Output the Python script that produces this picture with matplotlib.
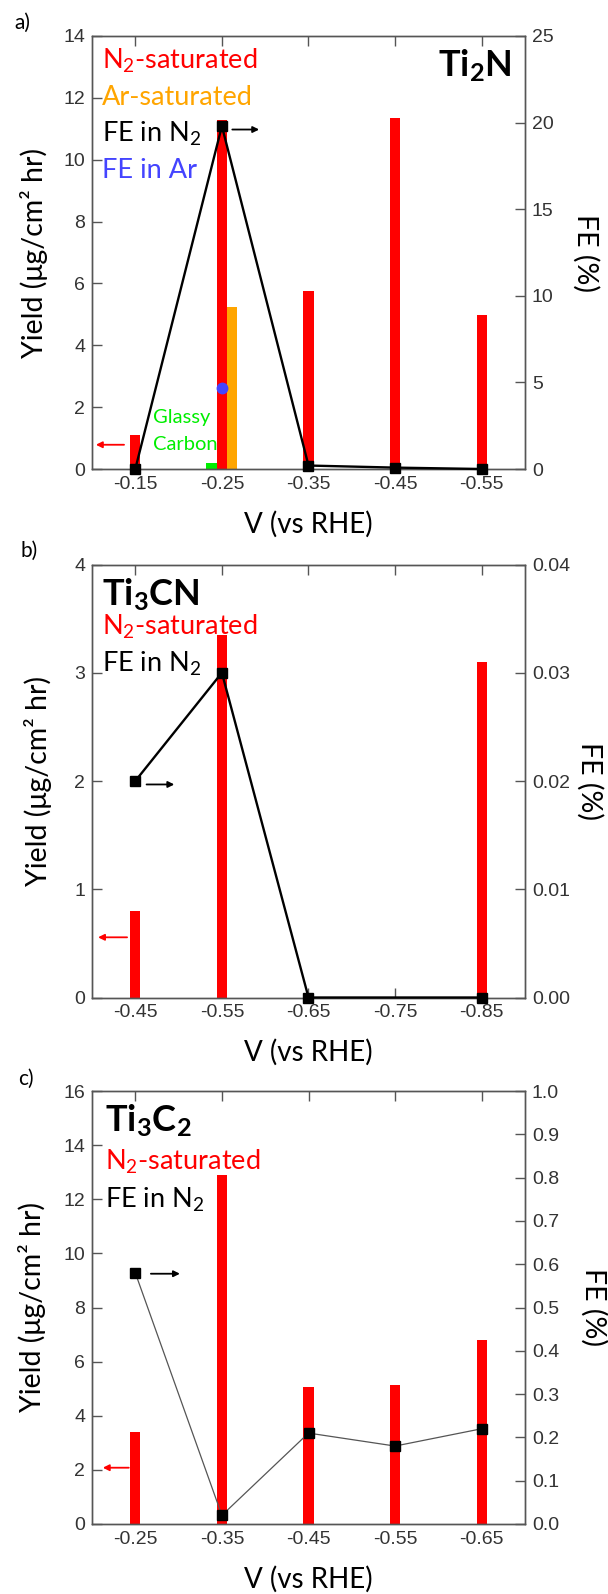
import numpy as np
import matplotlib.pyplot as plt

plt.rcParams['font.family'] = ['Liberation Sans', 'DejaVu Sans']
plt.rcParams['mathtext.fontset'] = 'custom'
plt.rcParams['mathtext.rm'] = 'Lato'
plt.rcParams['mathtext.it'] = 'Lato:italic'
plt.rcParams['mathtext.bf'] = 'Lato:bold'

# ---- panel a : Ti2N ----
v_a = [-0.15, -0.25, -0.35, -0.45, -0.55]
xlabels_a = ['-0.15', '-0.25', '-0.35', '-0.45', '-0.55']
yield_n2_a = [1.1, 11.3, 5.75, 11.35, 4.98]
v_ar_a = [-0.25]
yield_ar_a = [5.25]
v_gc_a = [-0.25]
yield_gc_a = [0.18]
fe_n2_a = [0.0, 19.8, 0.2, 0.08, 0.0]
fe_ar_a = [4.7]

# ---- panel b : Ti3CN ----
v_b = [-0.45, -0.55, -0.65, -0.75, -0.85]
xlabels_b = ['-0.45', '-0.55', '-0.65', '-0.75', '-0.85']
v_bar_b = [-0.45, -0.55, -0.85]
yield_n2_b = [0.8, 3.35, 3.1]
v_fe_b = [-0.45, -0.55, -0.65, -0.85]
fe_n2_b = [0.02, 0.03, 0.0, 0.0]

# ---- panel c : Ti3C2 ----
v_c = [-0.25, -0.35, -0.45, -0.55, -0.65]
xlabels_c = ['-0.25', '-0.35', '-0.45', '-0.55', '-0.65']
yield_n2_c = [3.4, 12.9, 5.05, 5.15, 6.8]
fe_n2_c = [0.58, 0.02, 0.21, 0.18, 0.22]

LBL = ['Lato', 'DejaVu Sans']
SPINE = '#555555'
TICKC = '#333333'
RED = '#ff0000'
ORANGE = '#ffa500'
GREEN = '#00ee00'
BLUE = '#4444ff'
BW = 0.012

W, H = 608, 1594
fig = plt.figure(figsize=(W / 100, H / 100), dpi=100, facecolor='white')


def make_panel(top_px, xlim, xt, xtl, ylim, yt, ylim2, yt2, yt2l, ylab_x, flab_x):
    left, right = 92, 525
    size = right - left
    ax = fig.add_axes([left / W, 1 - (top_px + size) / H, size / W, size / H])
    ax2 = ax.twinx()
    ax.set_xlim(*xlim)
    ax.set_ylim(*ylim)
    ax2.set_ylim(*ylim2)
    ax.set_xticks(xt, labels=xtl)
    ax.set_yticks(yt, labels=[str(t) for t in yt])
    ax2.set_yticks(yt2, labels=yt2l)
    for a in (ax, ax2):
        for s in a.spines.values():
            s.set_color(SPINE)
            s.set_linewidth(1.0)
    ax.tick_params(axis='both', direction='in', length=7, width=1, color=SPINE,
                   labelsize=14, labelcolor=TICKC, top=True, pad=5)
    ax2.tick_params(axis='y', direction='in', length=7, width=1, color=SPINE,
                    labelsize=14, labelcolor=TICKC, pad=5)
    ax.set_xlabel('V (vs RHE)', family=LBL, fontsize=20, va='center')
    ax.xaxis.set_label_coords(0.5, -55 / size)
    ax.set_ylabel('Yield (μg/cm² hr)', family=LBL, fontsize=20.5, va='center')
    ax.yaxis.set_label_coords((ylab_x - left) / size, 0.5)
    ax2.set_ylabel('FE (%)', family=LBL, fontsize=20.5, rotation=-90, va='center', ha='center')
    ax2.yaxis.set_label_coords((flab_x - left) / size, 0.5)
    return ax, ax2


def arrow(ax, x0, x1, y, color):
    ax.annotate('', xy=(x1, y), xytext=(x0, y), xycoords='axes fraction',
                arrowprops=dict(arrowstyle='-|>', color=color, lw=1.3,
                                mutation_scale=9, shrinkA=0, shrinkB=0))


def label(ax, x, y, s, color, size=19.5, weight='normal', ha='left'):
    ax.text(x, y, s, transform=ax.transAxes, color=color, fontsize=size,
            family=LBL, fontweight=weight, ha=ha, va='baseline', zorder=5)


# panel a
ax, ax2 = make_panel(36, (-0.10, -0.60), v_a, xlabels_a, (0, 14), range(0, 15, 2),
                     (0, 25), range(0, 26, 5), [str(t) for t in range(0, 26, 5)], 34, 586)
ax.bar(v_a, yield_n2_a, width=BW, color=RED, zorder=2)
ax.bar(np.array(v_ar_a) - BW, yield_ar_a, width=BW, color=ORANGE, zorder=2)
ax.bar(np.array(v_gc_a) + BW, yield_gc_a, width=BW, color=GREEN, zorder=2)
ax2.plot(v_a, fe_n2_a, color='black', lw=1.7, marker='s', ms=7.5, clip_on=False, zorder=4)
ax2.plot(v_ar_a, fe_ar_a, 'o', color=BLUE, ms=7.5, zorder=4)
label(ax, 0.022, 0.925, 'N$_2$-saturated', RED)
label(ax, 0.022, 0.841, 'Ar-saturated', ORANGE)
label(ax, 0.022, 0.755, 'FE in N$_2$', 'black')
label(ax, 0.022, 0.671, 'FE in Ar', BLUE)
label(ax, 0.970, 0.906, r'$\mathbf{Ti_2N}$', 'black', size=26, ha='right')
label(ax, 0.141, 0.107, 'Glassy', GREEN, size=14.5)
label(ax, 0.141, 0.044, 'Carbon', GREEN, size=14.5)
arrow(ax, 0.324, 0.386, 0.784, 'black')
arrow(ax, 0.074, 0.009, 0.056, RED)
fig.text(14 / W, 1 - 23 / H, 'a)', family=LBL, fontsize=15, va='center')

# panel b
ax, ax2 = make_panel(564.5, (-0.40, -0.90), v_b, xlabels_b, (0, 4), range(0, 5),
                     (0, 0.04), np.arange(0, 0.041, 0.01),
                     ['%.2f' % t for t in np.arange(0, 0.041, 0.01)], 38, 590)
ax.bar(v_bar_b, yield_n2_b, width=BW, color=RED, zorder=2)
ax2.plot(v_fe_b, fe_n2_b, color='black', lw=1.7, marker='s', ms=7.5, clip_on=False, zorder=4)
label(ax, 0.022, 0.906, r'$\mathbf{Ti_3CN}$', 'black', size=26)
label(ax, 0.022, 0.838, 'N$_2$-saturated', RED)
label(ax, 0.022, 0.752, 'FE in N$_2$', 'black')
arrow(ax, 0.126, 0.19, 0.492, 'black')
arrow(ax, 0.081, 0.014, 0.139, RED)
fig.text(20 / W, 1 - 551 / H, 'b)', family=LBL, fontsize=15, va='center')

# panel c
ax, ax2 = make_panel(1091, (-0.20, -0.70), v_c, xlabels_c, (0, 16), range(0, 17, 2),
                     (0, 1.0), np.arange(0, 1.01, 0.1),
                     ['%.1f' % t for t in np.arange(0, 1.01, 0.1)], 32, 594)
ax.bar(v_c, yield_n2_c, width=BW, color=RED, zorder=2)
ax2.plot(v_c, fe_n2_c, color='#555555', lw=0.9, zorder=3)
ax2.plot(v_c, fe_n2_c, 's', color='black', ms=7.5, clip_on=False, zorder=4)
label(ax, 0.030, 0.906, r'$\mathbf{Ti_3C_2}$', 'black', size=26)
label(ax, 0.030, 0.818, 'N$_2$-saturated', RED)
label(ax, 0.030, 0.731, 'FE in N$_2$', 'black')
arrow(ax, 0.136, 0.203, 0.578, 'black')
arrow(ax, 0.085, 0.025, 0.13, RED)
fig.text(18 / W, 1 - 1079 / H, 'c)', family=LBL, fontsize=15, va='center')

fig.savefig('out.png', dpi=100, facecolor='white')
